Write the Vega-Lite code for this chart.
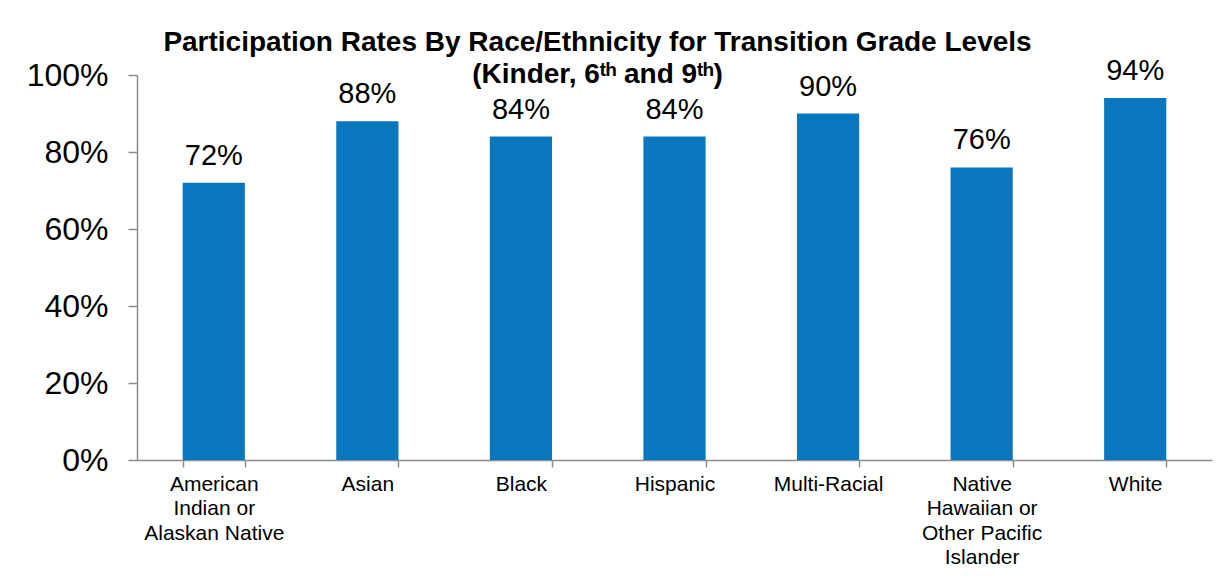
{
  "$schema": "https://vega.github.io/schema/vega-lite/v6.json",
  "autosize": "none",
  "width": 1075,
  "height": 385,
  "padding": {"left": 137, "top": 75, "right": 14, "bottom": 120},
  "background": "white",
  "config": {"view": {"stroke": null}, "font": "Liberation Sans"},
  "title": {
    "text": ["Participation Rates By Race/Ethnicity for Transition Grade Levels", "(Kinder, 6ᵗʰ and 9ᵗʰ)"],
    "font": "Liberation Sans",
    "fontSize": 28,
    "fontWeight": "bold",
    "color": "black",
    "anchor": "middle",
    "dx": -77,
    "offset": -32,
    "lineHeight": 32
  },
  "data": {
    "values": [
      {"group": "American Indian or Alaskan Native", "rate": 0.72},
      {"group": "Asian", "rate": 0.88},
      {"group": "Black", "rate": 0.84},
      {"group": "Hispanic", "rate": 0.84},
      {"group": "Multi-Racial", "rate": 0.90},
      {"group": "Native Hawaiian or Other Pacific Islander", "rate": 0.76},
      {"group": "White", "rate": 0.94}
    ]
  },
  "encoding": {
    "x": {
      "field": "group",
      "type": "nominal",
      "sort": null,
      "scale": {"paddingInner": 0.595, "paddingOuter": 0.2975},
      "axis": {
        "title": null,
        "labelAngle": 0,
        "labelFont": "Liberation Sans",
        "labelFontSize": 21,
        "labelColor": "black",
        "labelLineHeight": 24.5,
        "labelPadding": 6,
        "labelExpr": "datum.value == 'American Indian or Alaskan Native' ? ['American', 'Indian or', 'Alaskan Native'] : datum.value == 'Native Hawaiian or Other Pacific Islander' ? ['Native', 'Hawaiian or', 'Other Pacific', 'Islander'] : datum.value",
        "tickBand": "extent",
        "tickSize": 7,
        "tickColor": "#8c8c8c",
        "domainColor": "#8c8c8c",
        "tickWidth": 1.5,
        "domainWidth": 1.5,
        "labelBaseline": "top"
      }
    },
    "y": {
      "field": "rate",
      "type": "quantitative",
      "scale": {"domain": [0, 1], "nice": false},
      "axis": {
        "title": null,
        "format": ".0%",
        "values": [0, 0.2, 0.4, 0.6, 0.8, 1],
        "grid": false,
        "labelFont": "Liberation Sans",
        "labelFontSize": 32,
        "labelColor": "black",
        "labelPadding": 20,
        "tickSize": 9,
        "tickColor": "#8c8c8c",
        "domainColor": "#8c8c8c",
        "tickWidth": 1.5,
        "domainWidth": 1.5
      }
    }
  },
  "layer": [
    {"mark": {"type": "bar", "color": "#0877BE"}},
    {
      "mark": {"type": "text", "dy": -18, "baseline": "alphabetic", "fontSize": 29, "font": "Liberation Sans", "color": "black"},
      "encoding": {"text": {"field": "rate", "type": "quantitative", "format": ".0%"}}
    }
  ]
}
